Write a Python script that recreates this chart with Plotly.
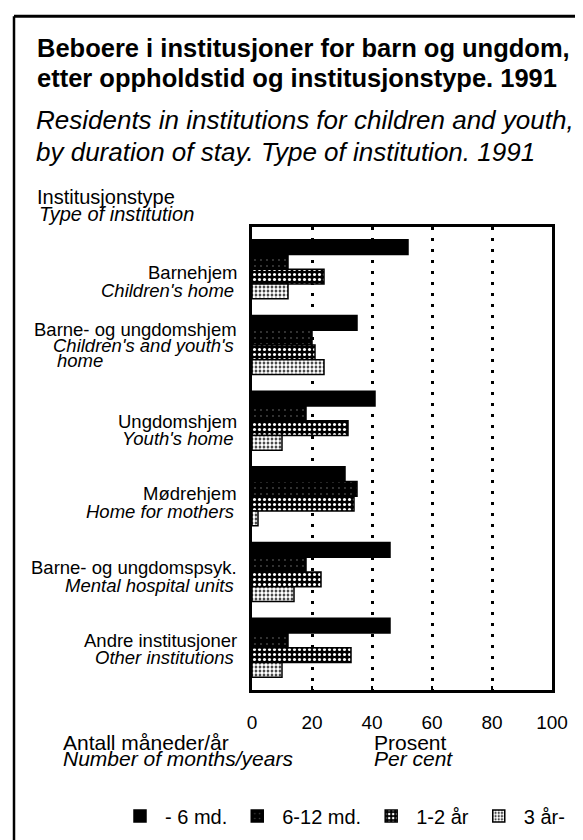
import plotly.graph_objects as go

# ---------------- data ----------------
categories = ["Barnehjem", "Barne- og ungdomshjem", "Ungdomshjem", "Mødrehjem",
              "Barne- og ungdomspsyk.", "Andre institusjoner"]
categories_en = ["Children's home", "Children's and youth's|home", "Youth's home",
                 "Home for mothers", "Mental hospital units", "Other institutions"]
series_names = ["- 6 md.", "6-12 md.", "1-2 år", "3 år-"]
v_under_6m = [52, 35, 41, 31, 46, 46]
v_6_12m = [12, 20, 18, 35, 18, 12]
v_1_2y = [24, 21, 32, 34, 23, 33]
v_3y = [12, 24, 10, 2, 14, 10]
x_ticks = [0, 20, 40, 60, 80, 100]

FONT = "Liberation Sans, Arial, Helvetica, sans-serif"

# plot area in page pixels (page has an 8px body margin)
OFF = 8
L, R, T, B = 252, 552, 227, 697
W, H = R - L, B - T


def px(x):
    return (x - L) / W


def py(y):
    return (B - y) / H


patterns = [
    None,
    dict(shape=".", fgcolor="#444444", bgcolor="black", size=6, solidity=0.08, fillmode="replace"),
    dict(shape=".", fgcolor="white", bgcolor="black", size=5, solidity=0.3, fillmode="replace"),
    dict(shape=".", fgcolor="white", bgcolor="black", size=4, solidity=0.72, fillmode="replace"),
]
values = [v_under_6m, v_6_12m, v_1_2y, v_3y]

fig = go.Figure()
for name, vals, pat in zip(series_names, values, patterns):
    marker = dict(color="black", line=dict(color="black", width=1.5))
    if pat is not None:
        marker["pattern"] = pat
    fig.add_trace(go.Bar(y=categories, x=vals, name=name, orientation="h", marker=marker))

annotations = []


def txt(text, x, y, size, xanchor="left", italic=False, bold=False):
    t = text
    if italic:
        t = "<i>" + t + "</i>"
    if bold:
        t = "<b>" + t + "</b>"
    annotations.append(dict(text=t, x=px(x), y=py(y), xref="paper", yref="paper",
                            xanchor=xanchor, yanchor="middle", showarrow=False,
                            font=dict(family=FONT, size=size, color="black")))


# titles
txt("Beboere i institusjoner for barn og ungdom,", 35, 45, 25.5, bold=True)
txt("etter oppholdstid og institusjonstype. 1991", 35, 76, 25.5, bold=True)
txt("Residents in institutions for children and youth,", 34, 118, 26, italic=True)
txt("by duration of stay. Type of institution. 1991", 34, 151, 26, italic=True)

txt("Institusjonstype", 35, 197, 20)
txt("Type of institution", 37, 214, 20, italic=True)

# category labels
label_y = [(273, 291), (331, 347), (424, 442), (498, 516), (573, 591), (647, 664)]
for no, en, (y1, y2) in zip(categories, categories_en, label_y):
    txt(no, 239, y1, 18.5, xanchor="right")
    parts = en.split("|")
    txt(parts[0], 236, y2, 18.5, xanchor="right", italic=True)
    if len(parts) > 1:
        txt(parts[1], 55, y2 + 16, 18.5, italic=True)

# axis notes
txt("Antall måneder/år", 61, 750, 21)
txt("Number of months/years", 61, 767, 21, italic=True)
txt("Prosent", 372, 750, 21)
txt("Per cent", 372, 767, 21, italic=True)

shapes = [
    dict(type="line", xref="paper", yref="paper", x0=px(14), y0=py(13), x1=px(600), y1=py(13),
         line=dict(color="black", width=3)),
    dict(type="line", xref="paper", yref="paper", x0=px(14), y0=py(13), x1=px(14), y1=py(860),
         line=dict(color="black", width=2.5)),
]

fig.update_layout(
    width=583, height=840, autosize=False,
    margin=dict(l=L - OFF, r=583 - R + OFF, t=T - OFF, b=840 - B + OFF, pad=0),
    paper_bgcolor="white", plot_bgcolor="white",
    barmode="group", bargap=0.22, bargroupgap=0,
    font=dict(family=FONT, size=19, color="black"),
    showlegend=True,
    legend=dict(orientation="h", x=px(115), y=py(825), xanchor="left", yanchor="middle",
                font=dict(family=FONT, size=20, color="black"), itemwidth=40,
                bgcolor="rgba(0,0,0,0)", traceorder="normal"),
    annotations=annotations,
    shapes=shapes,
)
fig.update_xaxes(range=[0, 100], tickvals=x_ticks, ticktext=[str(v) for v in x_ticks],
                 showline=True, mirror=True, linecolor="black", linewidth=2.5,
                 ticks="inside", ticklen=4, tickcolor="black", tickwidth=1.5,
                 showgrid=True, gridcolor="black", gridwidth=2.5, griddash="3px,8px",
                 zeroline=False, ticklabelstandoff=13,
                 tickfont=dict(family=FONT, size=19, color="black"), fixedrange=True)
fig.update_yaxes(type="category", categoryorder="array", categoryarray=categories,
                 range=[5.56, -0.56], showline=True, mirror=True, linecolor="black",
                 linewidth=2.5, showticklabels=False, ticks="", showgrid=False,
                 zeroline=False, fixedrange=True)

fig.write_html("out.html")
